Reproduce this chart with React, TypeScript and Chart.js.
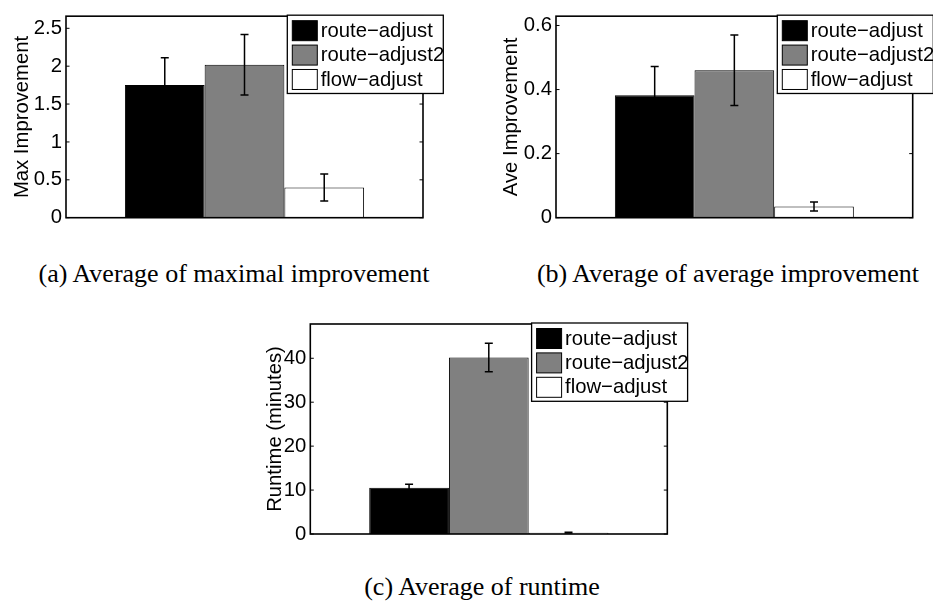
import React, { useEffect, useRef } from 'react';
import { Chart, registerables } from 'chart.js';

Chart.register(...registerables);

// ---------- data ----------
const seriesLabels = ['route−adjust', 'route−adjust2', 'flow−adjust'];

const maxImprovement = [1.753, 2.018, 0.399];
const maxImprovementErr = [0.357, 0.4, 0.178];
const maxTicks = [0, 0.5, 1, 1.5, 2, 2.5];
const maxYMax = 2.66;

const aveImprovement = [0.382, 0.46, 0.035];
const aveImprovementErr = [0.09, 0.11, 0.014];
const aveTicks = [0, 0.2, 0.4, 0.6];
const aveYMax = 0.629;

const runtimeMinutes = [10.55, 40.16, 0.3];
const runtimeErr = [0.77, 3.25, 0.1];
const runtimeTicks = [0, 10, 20, 30, 40];
const runtimeYMax = 47.8;

const captionA = '(a) Average of maximal improvement';
const captionB = '(b) Average of average improvement';
const captionC = '(c) Average of runtime';

// ---------- style ----------
const FILLS = ['#000000', '#808080', '#ffffff'];
const SANS = '"Liberation Sans", Arial, Helvetica, sans-serif';
const SERIF = '"Liberation Serif", "Times New Roman", serif';
const FONT_SIZE = 20.3;

const decorPlugin = {
  id: 'matlabDecor',
  afterDraw(chart: any) {
    const ctx = chart.ctx;
    const y = chart.scales.y;
    const a = chart.chartArea;
    ctx.save();
    // error bars
    ctx.strokeStyle = '#000';
    ctx.lineWidth = 1.5;
    chart.data.datasets.forEach((ds: any, i: number) => {
      const el = chart.getDatasetMeta(i).data[0];
      const v = ds.data[0];
      const e = ds.errorBars[0];
      const yt = y.getPixelForValue(v + e);
      const yb = y.getPixelForValue(v - e);
      ctx.beginPath();
      ctx.moveTo(el.x, yt);
      ctx.lineTo(el.x, yb);
      ctx.moveTo(el.x - 4, yt);
      ctx.lineTo(el.x + 4, yt);
      ctx.moveTo(el.x - 4, yb);
      ctx.lineTo(el.x + 4, yb);
      ctx.stroke();
    });
    // axes box
    ctx.lineWidth = 1.6;
    ctx.strokeRect(a.left, a.top, a.right - a.left, a.bottom - a.top);
    // inward ticks
    ctx.beginPath();
    y.ticks.forEach((t: any) => {
      const py = y.getPixelForValue(t.value);
      ctx.moveTo(a.left, py);
      ctx.lineTo(a.left + 3.5, py);
      ctx.moveTo(a.right, py);
      ctx.lineTo(a.right - 3.5, py);
    });
    ctx.lineWidth = 1;
    ctx.stroke();
    // legend
    const x0 = a.left + 221.3;
    const y0 = a.top - 1;
    const w = 156;
    const h = 78.3;
    ctx.fillStyle = '#fff';
    ctx.fillRect(x0, y0, w, h);
    ctx.lineWidth = 1.3;
    ctx.strokeStyle = '#000';
    ctx.strokeRect(x0, y0, w, h);
    chart.data.datasets.forEach((ds: any, i: number) => {
      const sy = y0 + 5.5 + i * 24.4;
      ctx.fillStyle = ds.backgroundColor;
      ctx.fillRect(x0 + 5, sy, 25, 20);
      ctx.lineWidth = 1;
      ctx.strokeStyle = '#000';
      ctx.strokeRect(x0 + 5, sy, 25, 20);
      ctx.fillStyle = '#000';
      ctx.font = `${FONT_SIZE}px ${SANS}`;
      ctx.textBaseline = 'middle';
      ctx.textAlign = 'left';
      ctx.fillText(ds.label, x0 + 33.4, sy + 10.5);
    });
    ctx.restore();
  },
};

type PanelProps = {
  left: number;
  top: number;
  width: number;
  height: number;
  pad: { top: number; right: number; bottom: number };
  axisW: number;
  titlePad: number;
  values: number[];
  errors: number[];
  ticks: number[];
  yMax: number;
  yTitle: string;
};

function Panel(p: PanelProps) {
  const ref = useRef<HTMLCanvasElement | null>(null);
  useEffect(() => {
    if (!ref.current) return;
    const chart = new Chart(ref.current, {
      type: 'bar',
      data: {
        labels: [''],
        datasets: seriesLabels.map((label, i) => ({
          label,
          data: [p.values[i]],
          errorBars: [p.errors[i]],
          backgroundColor: FILLS[i],
          borderColor: '#000',
          borderWidth: 1,
          barPercentage: 1,
          categoryPercentage: 0.67,
        })) as any,
      },
      options: {
        animation: false,
        responsive: false,
        devicePixelRatio: 1,
        layout: { padding: { left: 0, top: p.pad.top, right: p.pad.right, bottom: p.pad.bottom } },
        plugins: { legend: { display: false }, tooltip: { enabled: false } },
        scales: {
          x: { display: false, grid: { display: false } },
          y: {
            min: 0,
            max: p.yMax,
            afterBuildTicks: (s: any) => {
              s.ticks = p.ticks.map((v) => ({ value: v }));
            },
            afterFit: (s: any) => {
              s.width = p.axisW;
            },
            grid: { display: false, drawTicks: false },
            border: { display: false },
            ticks: {
              padding: 4,
              color: '#000',
              font: { family: SANS, size: FONT_SIZE },
              callback: (v: any) => String(v),
            },
            title: {
              display: true,
              text: p.yTitle,
              color: '#000',
              font: { family: SANS, size: FONT_SIZE },
              padding: { top: p.titlePad, bottom: 0 },
            },
          },
        },
      },
      plugins: [decorPlugin],
    });
    return () => chart.destroy();
  }, []);
  return (
    <canvas
      ref={ref}
      width={p.width}
      height={p.height}
      style={{ position: 'absolute', left: p.left, top: p.top, width: p.width, height: p.height, display: 'block' }}
    />
  );
}

function Caption({ text, cx, top }: { text: string; cx: number; top: number }) {
  return (
    <div
      style={{
        position: 'absolute',
        left: cx - 300,
        top,
        width: 600,
        textAlign: 'center',
        fontFamily: SERIF,
        fontSize: 26,
        lineHeight: '30px',
        color: '#000',
        whiteSpace: 'nowrap',
      }}
    >
      {text}
    </div>
  );
}

export default function App() {
  return (
    <div style={{ position: 'absolute', left: 0, top: 0, width: 933, height: 608, background: '#fff', overflow: 'hidden' }}>
      <Panel
        left={0}
        top={0}
        width={445}
        height={240}
        pad={{ top: 6, right: 22, bottom: 22.3 }}
        axisW={66}
        titlePad={9.8}
        values={maxImprovement}
        errors={maxImprovementErr}
        ticks={maxTicks}
        yMax={maxYMax}
        yTitle="Max Improvement"
      />
      <Panel
        left={490}
        top={0}
        width={443}
        height={240}
        pad={{ top: 6, right: 20.3, bottom: 22.3 }}
        axisW={66}
        titlePad={9.3}
        values={aveImprovement}
        errors={aveImprovementErr}
        ticks={aveTicks}
        yMax={aveYMax}
        yTitle="Ave Improvement"
      />
      <Panel
        left={244}
        top={300}
        width={450}
        height={260}
        pad={{ top: 24, right: 26.7, bottom: 26 }}
        axisW={66.3}
        titlePad={18.8}
        values={runtimeMinutes}
        errors={runtimeErr}
        ticks={runtimeTicks}
        yMax={runtimeYMax}
        yTitle="Runtime (minutes)"
      />
      <Caption text={captionA} cx={234} top={259} />
      <Caption text={captionB} cx={728} top={259} />
      <Caption text={captionC} cx={482} top={572} />
    </div>
  );
}
